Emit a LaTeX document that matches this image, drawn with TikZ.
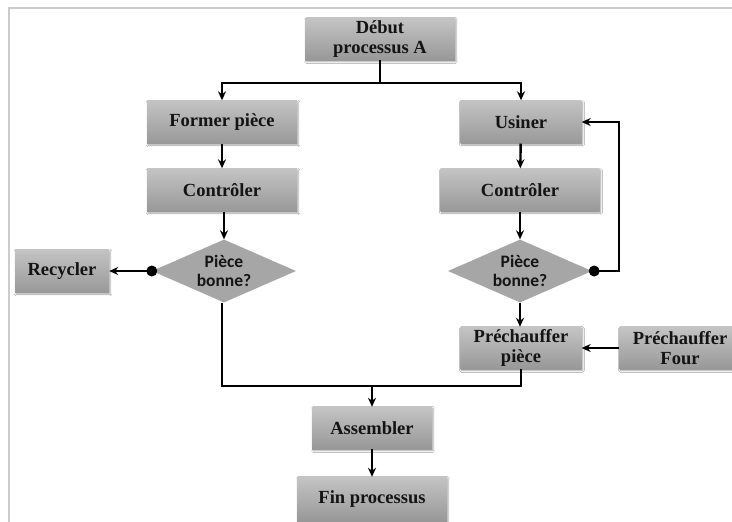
\documentclass[tikz,border=0pt]{standalone}
\usepackage{fontspec}
\setmainfont{Liberation Serif}
\newfontfamily\calib{Carlito}
\usetikzlibrary{shapes.geometric,arrows.meta,shadows.blur,calc}
\definecolor{boxtop}{HTML}{C4C4C4}
\definecolor{boxbot}{HTML}{989898}
\definecolor{diamfill}{HTML}{A6A6A6}
\definecolor{framecol}{HTML}{CCCCCC}
\definecolor{txt}{HTML}{141414}
\tikzset{
  stepbox/.style={rectangle, top color=boxtop, bottom color=boxbot, draw=none,
    blur shadow={shadow xshift=1pt, shadow yshift=-1.5pt, shadow blur steps=5, shadow opacity=35},
    text=txt, font=\fontsize{18.5}{20}\selectfont\bfseries, align=center, inner sep=0pt,
    minimum height=42pt},
  decision/.style={diamond, fill=diamfill, draw=none, aspect=2.3, inner sep=0pt,
    minimum width=144pt, minimum height=63pt, text=txt,
    font=\calib\fontsize{17.5}{19}\selectfont\bfseries, align=center},
  conn/.style={line width=2.4pt, draw=black},
  arr/.style={conn, -{Stealth[length=9pt,width=8pt]}},
  dotc/.style={circle, fill=black, inner sep=0pt, minimum size=11pt}
}
\begin{document}
\begin{tikzpicture}[x=1pt,y=-1pt]
\useasboundingbox (0,0) rectangle (732,522);
\fill[white] (0,0) rectangle (732,522);
\draw[framecol, line width=1.5pt] (732,8) -- (9,8) -- (9,522);

\node[stepbox, minimum width=150pt] (debut) at (380,39) {Début\\processus A};
\node[stepbox, minimum width=150pt, minimum height=43pt] (former) at (222,122) {Former pièce};
\node[stepbox, minimum width=121pt, minimum height=43pt] (usiner) at (521,122) {Usiner};
\node[stepbox, minimum width=150pt, minimum height=43pt] (ctrlL) at (222,190) {Contrôler};
\node[stepbox, minimum width=159pt, minimum height=43pt] (ctrlR) at (520,190) {Contrôler};
\node[decision] (diamL) at (224,271) {Pièce\\bonne?};
\node[decision] (diamR) at (520,271) {Pièce\\bonne?};
\node[stepbox, minimum width=94pt, minimum height=43pt] (recycler) at (62,271) {Recycler};
\node[stepbox, minimum width=121pt] (prechP) at (521,348) {Préchauffer\\pièce};
\node[stepbox, minimum width=121pt] (four) at (680,348) {Préchauffer\\Four};
\node[stepbox, minimum width=120pt] (assembler) at (372,428) {Assembler};
\node[stepbox, minimum width=150pt, minimum height=44pt] (fin) at (372,499) {Fin processus};

\coordinate (split) at (380,83);
\coordinate (loop) at (619,271);
\coordinate (joinL) at (222,386);
\coordinate (joinR) at (521,386);
\coordinate (joinM) at (372,386);

\draw[conn] (debut.south) -- (split);
\draw[arr] (split) -| (former.north);
\draw[arr] (split) -| (usiner.north);
\draw[arr] (former) -- (ctrlL);
\draw[arr] (usiner) -- (ctrlR);
\draw[arr] (ctrlL.south -| diamL.north) -- (diamL.north);
\draw[arr] (ctrlR.south -| diamR.north) -- (diamR.north);
\draw[arr] (diamR.south) -- (prechP.north -| diamR.south);

\node[dotc] (dotL) at (diamL.west) {};
\draw[arr] (dotL.center) -- (recycler.east);
\node[dotc] (dotR) at ($(diamR.east)+(2,0)$) {};
\draw[arr] (dotR.center) -- (loop) |- (usiner.east);
\draw[arr] (four.west) -- (prechP.east);

\draw[conn] (diamL.south -| joinL) -- (joinL) -- (joinR) -- (prechP.south);
\draw[arr] (joinM) -- (assembler.north);
\draw[arr] (assembler) -- (fin);
\end{tikzpicture}
\end{document}
